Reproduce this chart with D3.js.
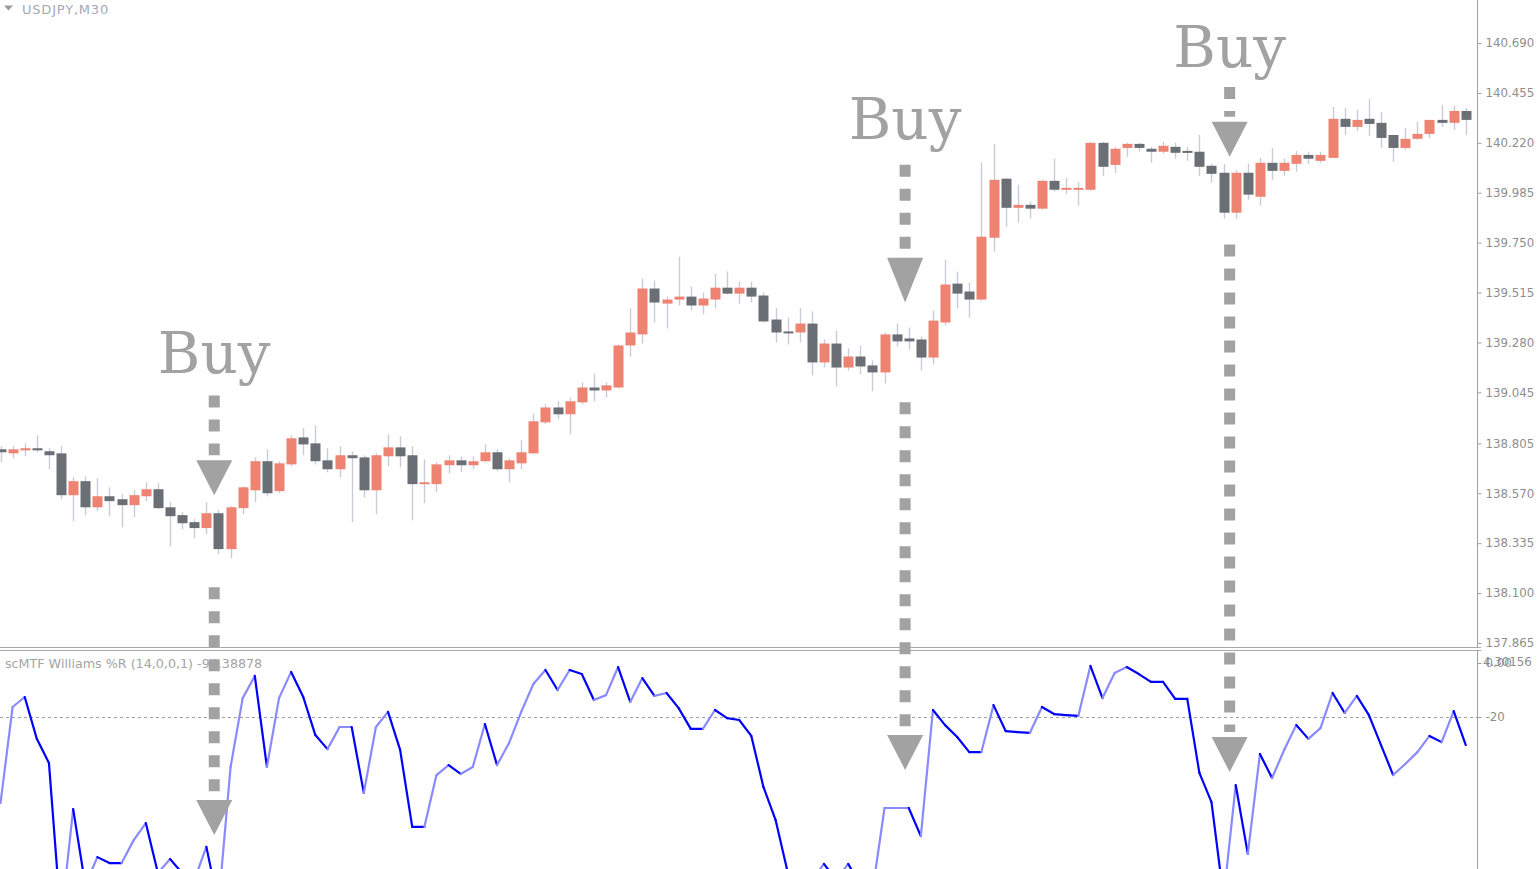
<!DOCTYPE html>
<html>
<head>
<meta charset="utf-8">
<script src="https://cdn.jsdelivr.net/npm/d3@7"></script>
<style>
  html, body { margin: 0; padding: 0; background: #fff; overflow: hidden; }
  svg { display: block; }
</style>
</head>
<body>
<svg id="chart" width="1540" height="869"></svg>
<script>
// USDJPY M30 candles
const opens = [138.777,138.758,138.772,138.782,138.768,138.758,138.561,138.627,138.504,138.556,
  138.542,138.514,138.556,138.589,138.504,138.467,138.434,138.406,138.476,138.307,
  138.500,138.584,138.721,138.580,138.706,138.833,138.805,138.725,138.683,138.749,
  138.739,138.584,138.744,138.786,138.749,138.613,138.613,138.702,138.725,138.702,
  138.721,138.763,138.683,138.711,138.758,138.904,138.974,138.942,138.998,139.068,
  139.054,139.068,139.266,139.318,139.534,139.463,139.482,139.496,139.454,139.482,
  139.538,139.510,139.538,139.501,139.388,139.332,139.327,139.369,139.186,139.275,
  139.162,139.214,139.172,139.139,139.318,139.299,139.294,139.209,139.374,139.557,
  139.520,139.482,139.773,140.051,139.914,139.928,139.910,140.041,139.999,139.999,
  139.999,140.220,140.116,140.196,140.215,140.192,140.178,140.201,140.182,140.178,
  140.112,140.079,139.891,140.079,139.966,140.126,140.088,140.121,140.163,140.135,
  140.149,140.333,140.295,140.333,140.314,140.257,140.196,140.239,140.262,140.328,
  140.314,140.370];
const highs = [138.791,138.791,138.805,138.843,138.782,138.791,138.646,138.650,138.641,138.598,
  138.566,138.584,138.622,138.617,138.528,138.481,138.448,138.528,138.490,138.509,
  138.603,138.739,138.777,138.721,138.843,138.876,138.890,138.782,138.791,138.768,
  138.749,138.758,138.847,138.838,138.791,138.730,138.716,138.749,138.744,138.744,
  138.800,138.777,138.735,138.819,138.946,138.989,139.003,139.021,139.092,139.134,
  139.092,139.270,139.440,139.581,139.571,139.496,139.684,139.543,139.515,139.604,
  139.614,139.567,139.567,139.515,139.444,139.397,139.444,139.426,139.294,139.336,
  139.252,139.266,139.195,139.327,139.369,139.350,139.308,139.430,139.670,139.614,
  139.562,140.126,140.215,140.055,140.022,139.943,140.046,140.145,140.055,140.037,
  140.225,140.225,140.201,140.220,140.220,140.201,140.225,140.220,140.201,140.257,
  140.121,140.121,140.093,140.121,140.149,140.196,140.145,140.182,140.178,140.178,
  140.389,140.384,140.375,140.427,140.366,140.257,140.290,140.319,140.328,140.398,
  140.394,140.384];
const lows = [138.716,138.735,138.744,138.763,138.683,138.542,138.439,138.467,138.486,138.462,
  138.410,138.457,138.533,138.495,138.321,138.401,138.359,138.378,138.284,138.265,
  138.472,138.528,138.556,138.570,138.697,138.749,138.706,138.669,138.645,138.434,
  138.551,138.472,138.697,138.692,138.443,138.523,138.575,138.664,138.669,138.683,
  138.716,138.674,138.622,138.683,138.754,138.895,138.918,138.848,138.989,139.003,
  139.021,139.064,139.214,139.275,139.374,139.346,139.454,139.430,139.412,139.440,
  139.506,139.463,139.468,139.374,139.280,139.271,139.280,139.125,139.162,139.073,
  139.148,139.130,139.050,139.087,139.261,139.247,139.148,139.177,139.360,139.440,
  139.397,139.477,139.708,139.825,139.844,139.863,139.905,139.990,139.980,139.924,
  139.994,140.065,140.079,140.154,140.178,140.126,140.168,140.145,140.135,140.065,
  140.032,139.863,139.863,139.952,139.924,140.046,140.065,140.084,140.121,140.126,
  140.149,140.257,140.276,140.253,140.196,140.131,140.187,140.234,140.243,140.295,
  140.281,140.257];
const closes = [138.763,138.777,138.782,138.772,138.749,138.561,138.627,138.504,138.556,138.533,
  138.514,138.561,138.589,138.500,138.462,138.429,138.406,138.476,138.307,138.504,
  138.598,138.721,138.570,138.711,138.829,138.800,138.721,138.683,138.749,138.735,
  138.584,138.749,138.786,138.744,138.613,138.622,138.706,138.725,138.702,138.721,
  138.763,138.683,138.725,138.763,138.909,138.974,138.942,139.003,139.068,139.054,
  139.078,139.266,139.327,139.534,139.468,139.482,139.496,139.454,139.487,139.538,
  139.510,139.538,139.496,139.379,139.327,139.327,139.369,139.186,139.275,139.162,
  139.214,139.167,139.139,139.318,139.285,139.285,139.209,139.383,139.553,139.510,
  139.482,139.778,140.046,139.914,139.928,139.910,140.041,139.999,140.008,140.008,
  140.220,140.107,140.192,140.215,140.196,140.178,140.206,140.173,140.173,140.107,
  140.074,139.891,140.079,139.976,140.126,140.088,140.126,140.163,140.145,140.163,
  140.333,140.295,140.328,140.309,140.243,140.196,140.239,140.262,140.328,140.314,
  140.370,140.328];

// scMTF Williams %R values, one per candle
const wpr = [-51.9,-16.3,-12.6,-28.1,-37.0,-95.6,-54.1,-82.2,-71.9,-74.1,
  -74.1,-65.6,-59.3,-77.8,-72.6,-77.8,-80.4,-68.1,-89.6,-38.5,
  -13.0,-4.8,-38.5,-13.0,-3.3,-12.6,-26.7,-31.9,-23.7,-23.7,
  -48.1,-23.7,-18.1,-32.2,-60.7,-60.7,-41.5,-37.8,-41.1,-38.5,
  -22.6,-37.8,-29.6,-18.1,-7.8,-2.6,-10.0,-2.6,-4.1,-13.7,
  -11.9,-1.5,-14.4,-5.6,-12.2,-11.1,-16.7,-24.4,-24.4,-17.4,
  -20.4,-21.1,-27.0,-45.9,-58.1,-77.4,-82.2,-80.4,-74.4,-80.4,
  -74.4,-82.2,-84.8,-53.7,-53.7,-53.7,-64.1,-17.4,-23.0,-27.4,
  -33.0,-33.0,-15.6,-25.2,-25.6,-25.9,-16.3,-18.9,-19.3,-19.6,
  -1.1,-13.0,-3.7,-1.5,-4.1,-7.0,-7.0,-13.3,-13.3,-40.7,
  -51.5,-87.0,-45.2,-70.7,-33.7,-42.6,-32.2,-23.0,-28.1,-24.1,
  -11.1,-18.5,-12.2,-19.3,-30.4,-41.5,-37.4,-33.0,-27.0,-29.3,
  -17.8,-30.4];

const priceTicks = [140.690,140.455,140.220,139.985,139.750,139.515,139.280,139.045,138.805,138.570,138.335,138.100,137.865];
const wprLevel = -20;
const wprMaxLabel = "4.30156";
const symbolLabel = "USDJPY,M30";
const indicatorLabel = "scMTF Williams %R (14,0,0,1) -94.38878";

// Buy signals: position in bar units, levels in price / indicator units
const buyIdx = [17.65, 74.7, 101.5];
const buyTextPrice = [139.134, 140.239, 140.577];
const buyDashTop = [139.030, 140.117, 140.483];
const buyHeadTop = [138.725, 139.679, 140.319];
const buyHeadTip = [138.561, 139.468, 140.154];
const buyLowDashTop = [138.128, 138.998, 139.741];
const buyLowHeadTop = [-50.7, -26.7, -27.4];
const buyLowHeadTip = [-63.7, -39.6, -40.4];

const W = 1540, H = 869;
const axisX = 1477;
const mainBottom = 647, subTop = 651;

const svg = d3.select('#chart');

const x = d3.scaleLinear().domain([0, opens.length - 1]).range([0.5, 1465.8]);
const yPrice = d3.scaleLinear().domain([137.865, 140.690]).range([643, 43]);
const yWpr = d3.scaleLinear().domain([0, -20]).range([663, 717]);

const bull = '#ef8372', bear = '#6a6e75', wickColor = '#c9cbd9';
const axisColor = '#a0a0a0', textColor = '#8e8e8e';
const markColor = '#a2a2a2';
const uiFont = '"DejaVu Sans", Tahoma, sans-serif';

svg.append('defs').append('clipPath').attr('id', 'mainClip')
  .append('rect').attr('x', 0).attr('y', 0).attr('width', axisX).attr('height', mainBottom);
svg.select('defs').append('clipPath').attr('id', 'subClip')
  .append('rect').attr('x', 0).attr('y', subTop).attr('width', axisX).attr('height', H - subTop);

// candles
let candles = opens.map(function (o, i) {
  return { i: i, o: o, h: highs[i], l: lows[i], c: closes[i] };
});
let main = svg.append('g').attr('clip-path', 'url(#mainClip)');
main.selectAll('line.wick')
  .data(candles)
  .enter()
  .append('line')
  .attr('class', 'wick')
  .attr('x1', d => Math.round(x(d.i)) + 0.5)
  .attr('x2', d => Math.round(x(d.i)) + 0.5)
  .attr('y1', d => yPrice(d.h))
  .attr('y2', d => yPrice(d.l))
  .style('stroke', wickColor)
  .style('stroke-width', 1.4);
main.selectAll('rect.body')
  .data(candles)
  .enter()
  .append('rect')
  .attr('class', 'body')
  .attr('x', d => Math.round(x(d.i)) - 4.5)
  .attr('width', 10)
  .attr('y', d => yPrice(Math.max(d.o, d.c)))
  .attr('height', d => Math.max(2, Math.abs(yPrice(d.o) - yPrice(d.c))))
  .style('fill', d => d.c >= d.o ? bull : bear);

// price axis
svg.append('line')
  .attr('x1', axisX + 0.5).attr('x2', axisX + 0.5)
  .attr('y1', 0).attr('y2', mainBottom + 1)
  .style('stroke', axisColor);
let priceAxis = svg.append('g')
  .attr('transform', 'translate(' + (axisX + 0.5) + ',0)')
  .call(d3.axisRight(yPrice).tickValues(priceTicks).tickFormat(d3.format('.3f')).tickSize(4).tickPadding(4));
priceAxis.select('.domain').remove();
priceAxis.selectAll('line').style('stroke', axisColor);
priceAxis.selectAll('text')
  .style('fill', textColor)
  .style('font-family', uiFont)
  .style('font-size', '11.8px');

// panel separator
[mainBottom + 0.5, subTop - 0.5].forEach(function (yy) {
  svg.append('line')
    .attr('x1', 0).attr('x2', axisX + 4)
    .attr('y1', yy).attr('y2', yy)
    .style('stroke', '#a8a8a8');
});

// indicator panel
svg.append('line')
  .attr('x1', axisX + 0.5).attr('x2', axisX + 0.5)
  .attr('y1', subTop - 1).attr('y2', H)
  .style('stroke', axisColor);
let sub = svg.append('g').attr('clip-path', 'url(#subClip)');
sub.append('line')
  .attr('x1', 0).attr('x2', axisX)
  .attr('y1', Math.round(yWpr(wprLevel)) + 0.5).attr('y2', Math.round(yWpr(wprLevel)) + 0.5)
  .style('stroke', '#a0a0a0')
  .style('stroke-dasharray', '3,3');

let segs = [];
let lastDown = false;
for (let i = 1; i < wpr.length; i++) {
  let down = wpr[i] < wpr[i - 1] ? true : (wpr[i] > wpr[i - 1] ? false : lastDown);
  segs.push({ a: i - 1, b: i, down: down });
  lastDown = down;
}
sub.selectAll('line.wpr')
  .data(segs)
  .enter()
  .append('line')
  .attr('class', 'wpr')
  .attr('x1', d => x(d.a))
  .attr('x2', d => x(d.b))
  .attr('y1', d => yWpr(wpr[d.a]))
  .attr('y2', d => yWpr(wpr[d.b]))
  .style('stroke', d => d.down ? '#0000ff' : '#8a8aff')
  .style('stroke-width', 2.2)
  .style('stroke-linecap', 'round');

let wprAxis = svg.append('g')
  .attr('transform', 'translate(' + (axisX + 0.5) + ',0)')
  .call(d3.axisRight(yWpr).tickValues([0, wprLevel]).tickFormat(d => d === 0 ? '0.00' : d).tickSize(4).tickPadding(4));
wprAxis.select('.domain').remove();
wprAxis.selectAll('line').style('stroke', axisColor);
wprAxis.selectAll('text')
  .style('fill', textColor)
  .style('font-family', uiFont)
  .style('font-size', '11.8px');
// MT4 prints the window maximum on top of the 0.00 level label
svg.append('text')
  .attr('x', axisX + 6).attr('y', yWpr(0) + 3)
  .style('fill', textColor)
  .style('font-family', uiFont)
  .style('font-size', '11.8px')
  .text(wprMaxLabel);

svg.append('text')
  .attr('x', 5).attr('y', 668)
  .style('fill', '#a4a4a4')
  .style('font-family', uiFont)
  .style('font-size', '12.7px')
  .text(indicatorLabel);

// top-left symbol label
svg.append('path')
  .attr('d', 'M4,5.5 L13,5.5 L8.5,10.5 Z')
  .style('fill', '#9a9a9a');
svg.append('text')
  .attr('x', 22).attr('y', 13.5)
  .style('fill', '#a4aab4')
  .style('font-family', uiFont)
  .style('font-size', '13px')
  .style('letter-spacing', '0.8px')
  .text(symbolLabel);

// Buy annotations
let marks = svg.append('g');
buyIdx.forEach(function (bi, k) {
  let cx = x(bi);
  marks.append('text')
    .attr('x', cx).attr('y', yPrice(buyTextPrice[k]))
    .attr('text-anchor', 'middle')
    .style('fill', markColor)
    .style('font-family', '"DejaVu Serif", "Liberation Serif", serif')
    .style('font-size', '58px')
    .text('Buy');
  let upTop = yPrice(buyDashTop[k]), upHead = yPrice(buyHeadTop[k]);
  marks.append('line')
    .attr('x1', cx).attr('x2', cx)
    .attr('y1', upTop).attr('y2', upHead - 5)
    .style('stroke', markColor).style('stroke-width', 11)
    .style('stroke-dasharray', '12,12');
  marks.append('path')
    .attr('d', 'M' + (cx - 18) + ',' + upHead + ' L' + (cx + 18) + ',' + upHead + ' L' + cx + ',' + yPrice(buyHeadTip[k]) + ' Z')
    .style('fill', markColor);
  let lowTop = yPrice(buyLowDashTop[k]), lowHead = yWpr(buyLowHeadTop[k]);
  marks.append('line')
    .attr('x1', cx).attr('x2', cx)
    .attr('y1', lowTop).attr('y2', lowHead - 5)
    .style('stroke', markColor).style('stroke-width', 11)
    .style('stroke-dasharray', '12,12');
  marks.append('path')
    .attr('d', 'M' + (cx - 18) + ',' + lowHead + ' L' + (cx + 18) + ',' + lowHead + ' L' + cx + ',' + yWpr(buyLowHeadTip[k]) + ' Z')
    .style('fill', markColor);
});
</script>
</body>
</html>
